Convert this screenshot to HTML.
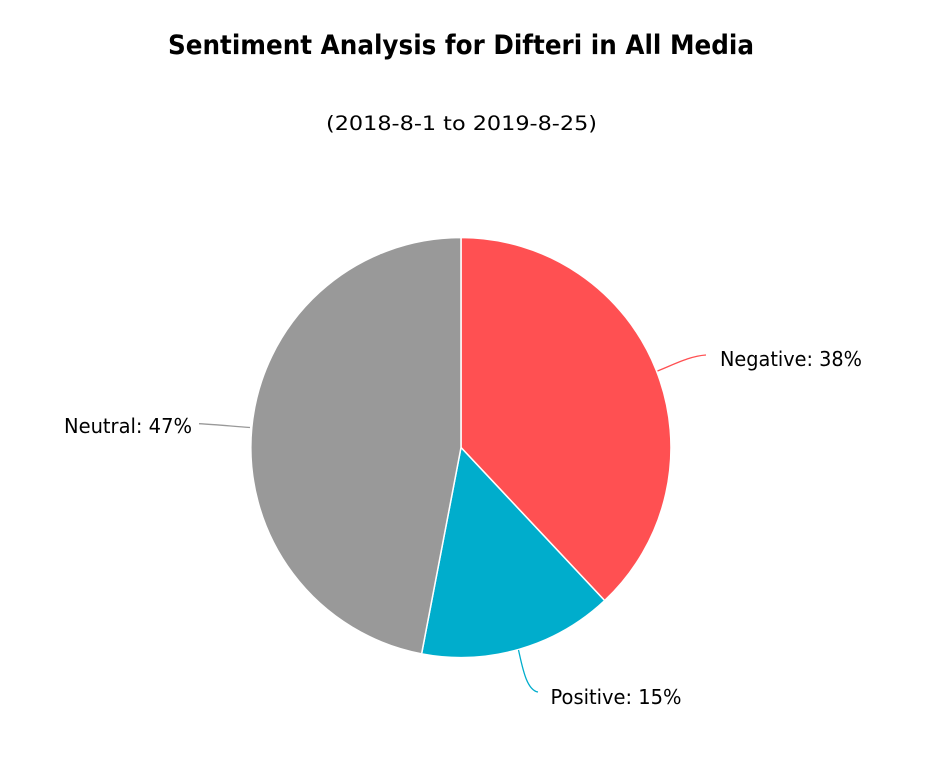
<!DOCTYPE html>
<html>
<head>
<meta charset="utf-8">
<style>
html,body{margin:0;padding:0;background:#fff;}
svg{display:block;}
text{font-family:"DejaVu Sans","Liberation Sans",sans-serif;fill:#000;}
</style>
</head>
<body>
<svg width="949" height="758" viewBox="0 0 949 758" xmlns="http://www.w3.org/2000/svg">
<rect width="949" height="758" fill="#fff"/>
<text x="461" y="54" text-anchor="middle" font-size="26.5" font-weight="bold" textLength="586" lengthAdjust="spacingAndGlyphs">Sentiment Analysis for Difteri in All Media</text>
<text x="461.5" y="130" text-anchor="middle" font-size="19.5" textLength="271" lengthAdjust="spacingAndGlyphs">(2018-8-1 to 2019-8-25)</text>

<g stroke="#fff" stroke-width="1.5" stroke-linejoin="round">
<path d="M461,447.5 L461,237.5 A210,210 0 0 1 604.7,600.6 Z" fill="#FF5052"/>
<path d="M461,447.5 L604.7,600.6 A210,210 0 0 1 421.6,653.8 Z" fill="#00ADCC"/>
<path d="M461,447.5 L421.6,653.8 A210,210 0 0 1 461,237.5 Z" fill="#999999"/>
</g>

<g fill="none" stroke-width="1.3">
<path d="M657.5,371 C675,364 690,356 706,355" stroke="#FF5052"/>
<path d="M250,427.5 C230,426 215,424.5 199,423.7" stroke="#999999"/>
<path d="M518.5,650 C522,665 526,690 538,692" stroke="#00ADCC"/>
</g>

<text x="720" y="366" font-size="20.5" textLength="142" lengthAdjust="spacingAndGlyphs">Negative: 38%</text>
<text x="64" y="433" font-size="20.5" textLength="128" lengthAdjust="spacingAndGlyphs">Neutral: 47%</text>
<text x="550.5" y="704" font-size="20.5" textLength="131" lengthAdjust="spacingAndGlyphs">Positive: 15%</text>
</svg>
</body>
</html>
